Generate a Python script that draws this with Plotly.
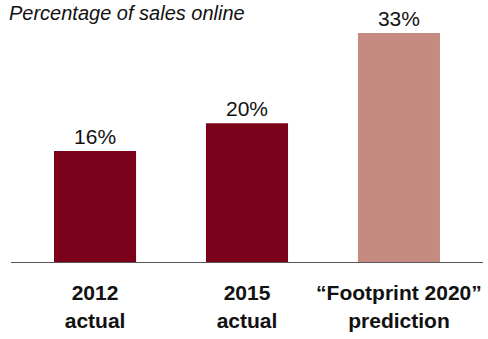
import plotly.graph_objects as go

categories = ["<b>2012</b><br><b>actual</b>", "<b>2015</b><br><b>actual</b>", "<b>“Footprint 2020”</b><br><b>prediction</b>"]
values = [16, 20, 33]
labels = ["16%", "20%", "33%"]
colors = ["#7b0019", "#7b0019", "#c58b80"]
title = "Percentage of sales online"

W, H = 488, 339
ml, mr, mt, mb = 11, 5, 22, 77
ph = H - mt - mb

fig = go.Figure(go.Bar(
    x=[0, 1, 2], y=values, text=labels, textposition="outside",
    marker=dict(color=colors, line=dict(width=0)),
    width=0.54, cliponaxis=False,
    textfont=dict(family="Liberation Sans, Arial, sans-serif", size=21, color="#111"),
))

fig.update_layout(
    width=W, height=H, margin=dict(l=ml, r=mr, t=mt, b=mb),
    plot_bgcolor="white", paper_bgcolor="white", showlegend=False,
    font=dict(family="Liberation Sans, Arial, sans-serif", size=20, color="#111"),
    xaxis=dict(range=[-0.553, 2.553], tickvals=[0, 1, 2], ticktext=categories,
               showline=True, linecolor="#555", linewidth=1, showgrid=False, zeroline=False,
               ticks="outside", ticklen=12, tickcolor="rgba(0,0,0,0)",
               tickfont=dict(size=21, color="#111")),
    yaxis=dict(range=[0, 240 / 6.94], visible=False, showgrid=False),
    annotations=[dict(text="<i>" + title + "</i>", xref="paper", yref="paper",
                      x=-3 / (W - ml - mr), y=1 + (mt - 1) / ph, xanchor="left", yanchor="top",
                      borderpad=0, showarrow=False, font=dict(size=20, color="#111"))],
)
fig.write_html("out.html")
